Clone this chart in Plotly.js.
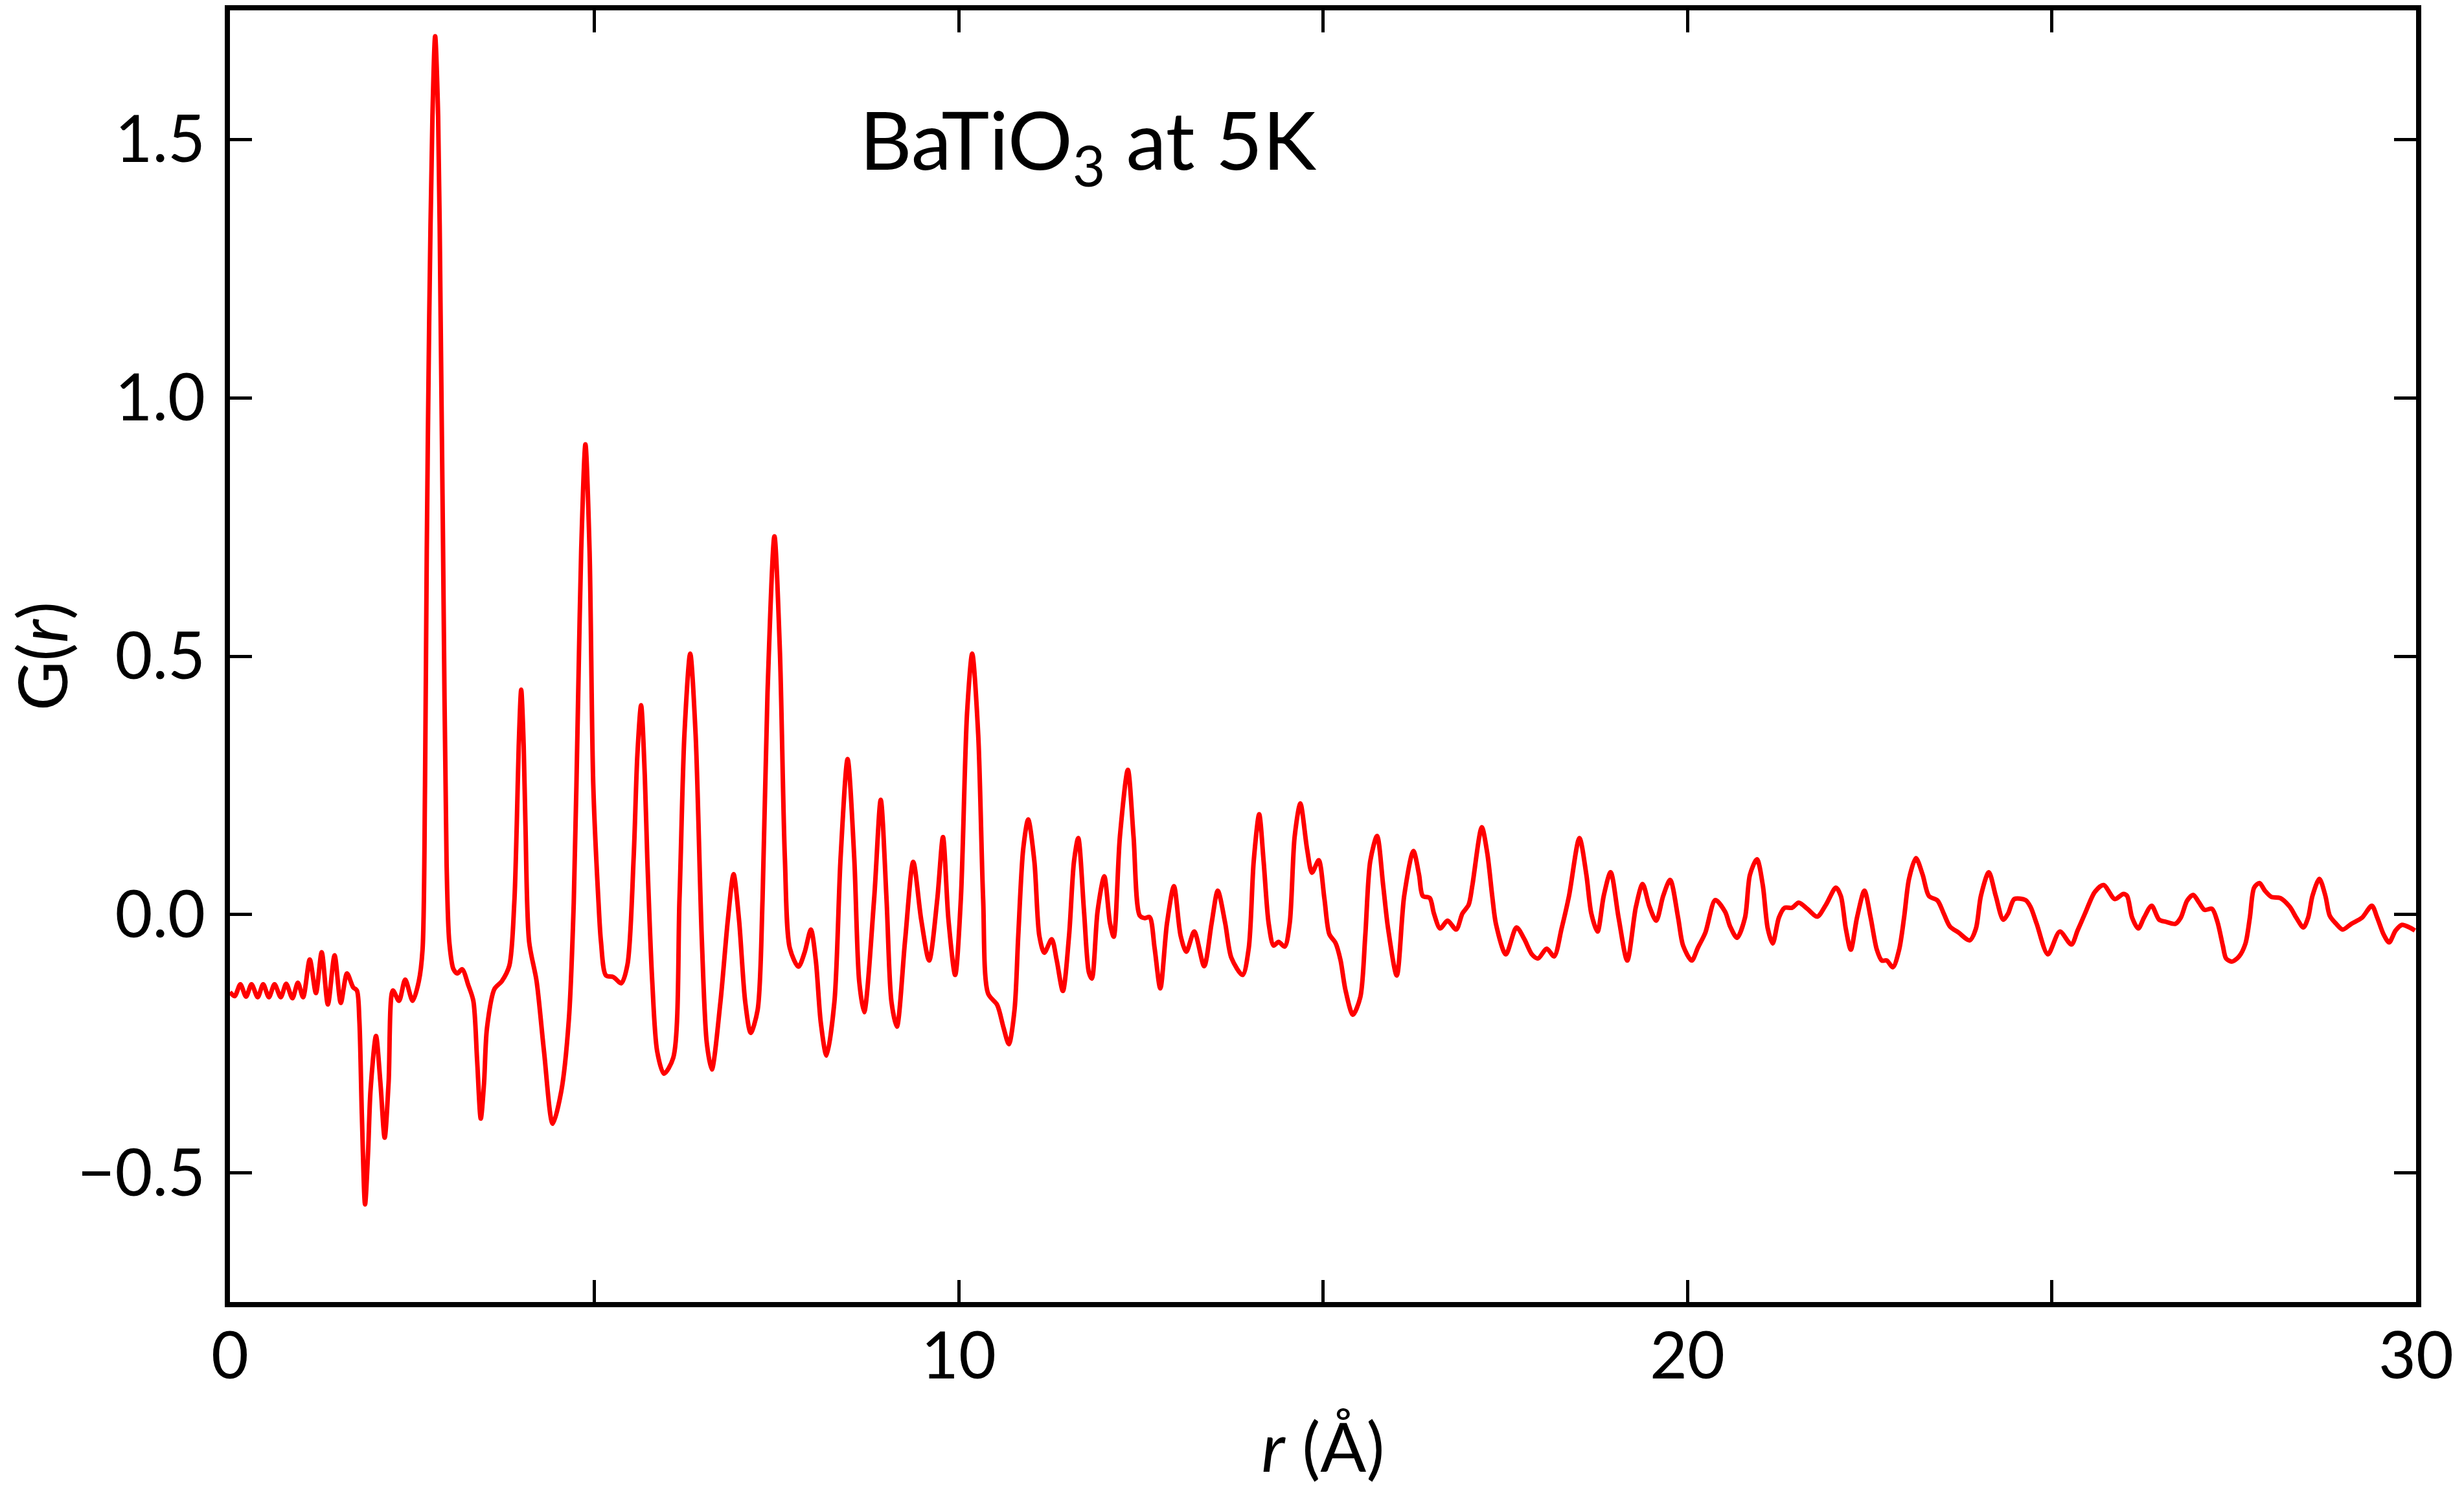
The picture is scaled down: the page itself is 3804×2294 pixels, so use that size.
<!DOCTYPE html>
<html>
<head>
<meta charset="utf-8">
<script src="https://cdn.plot.ly/plotly-3.0.1.min.js"></script>
<style>html,body{margin:0;padding:0;background:#fff;}#chart{width:3804px;height:2294px;}</style>
</head>
<body>
<div id="chart"></div>
<script>
// r in Angstrom
const r = [
0.0,0.065,0.143,0.221,0.296,0.381,0.456,0.534,0.612,0.697,0.772,0.857,0.932,1.004,
1.095,1.18,1.259,1.344,1.436,1.521,1.606,1.691,1.742,1.776,1.81,1.854,1.895,1.929,
2.004,2.065,2.123,2.177,2.235,2.32,2.405,2.507,2.592,2.643,2.677,2.701,2.735,2.779,
2.816,2.857,2.891,2.925,2.973,3.01,3.068,3.119,3.187,3.272,3.34,3.391,3.442,3.487,
3.527,3.63,3.731,3.834,3.902,3.936,3.963,3.997,4.031,4.055,4.106,4.208,4.31,4.429,
4.548,4.65,4.718,4.786,4.82,4.878,4.935,4.986,5.058,5.092,5.16,5.262,5.37,5.455,
5.54,5.591,5.642,5.693,5.727,5.795,5.863,5.955,6.084,6.169,6.237,6.316,6.39,6.476,
6.544,6.612,6.731,6.833,6.911,6.986,7.071,7.146,7.241,7.309,7.377,7.472,7.547,7.615,
7.683,7.802,7.887,7.972,8.04,8.108,8.186,8.295,8.38,8.476,8.567,8.635,8.703,8.84,
8.931,9.01,9.078,9.152,9.265,9.377,9.486,9.595,9.707,9.785,9.86,9.952,10.03,10.115,
10.186,10.268,10.336,10.404,10.529,10.614,10.689,10.767,10.818,10.886,10.954,11.039,
11.107,11.175,11.277,11.345,11.43,11.515,11.583,11.641,11.72,11.787,11.828,11.907,
11.998,12.077,12.128,12.213,12.322,12.4,12.485,12.553,12.621,12.689,12.767,12.859,
12.954,13.046,13.124,13.233,13.369,13.471,13.556,13.658,13.743,13.896,13.981,14.049,
14.124,14.185,14.254,14.322,14.39,14.475,14.543,14.611,14.689,14.781,14.849,14.941,
15.019,15.087,15.172,15.24,15.308,15.41,15.512,15.58,15.648,15.742,15.825,15.893,
16.012,16.114,16.24,16.318,16.369,16.465,16.522,16.607,16.709,16.828,16.913,16.999,
17.05,17.179,17.254,17.322,17.373,17.509,17.655,17.764,17.866,17.951,18.07,18.172,
18.274,18.376,18.519,18.614,18.682,18.767,18.852,18.947,19.056,19.175,19.294,19.386,
19.481,19.573,19.668,19.764,19.873,19.941,20.06,20.145,20.247,20.383,20.519,20.587,
20.682,20.791,20.859,20.955,21.035,21.103,21.171,21.256,21.334,21.436,21.528,21.647,
21.783,21.902,22.038,22.106,22.174,22.243,22.328,22.43,22.515,22.6,22.668,22.736,
22.821,22.906,22.974,23.042,23.137,23.229,23.314,23.433,23.518,23.603,23.722,23.875,
23.96,24.028,24.137,24.232,24.334,24.402,24.487,24.641,24.709,24.794,24.947,25.11,
25.27,25.355,25.457,25.593,25.712,25.865,25.984,26.035,26.103,26.188,26.267,26.371,
26.474,26.563,26.697,26.771,26.859,26.942,27.022,27.097,27.2,27.274,27.348,27.393,
27.473,27.571,27.659,27.719,27.778,27.852,27.926,28.015,28.134,28.267,28.356,28.454,
28.519,28.578,28.673,28.756,28.815,28.904,28.993,29.111,29.259,29.393,29.467,29.556,
29.63,29.719,29.807,29.911,29.985
];
// G(r)
const G = [
-0.150,-0.158,-0.135,-0.159,-0.135,-0.160,-0.135,-0.160,-0.135,-0.160,-0.134,-0.162,-0.132,-0.160,
-0.087,-0.152,-0.073,-0.174,-0.079,-0.171,-0.114,-0.141,-0.147,-0.205,-0.387,-0.561,-0.462,-0.341,
-0.235,-0.326,-0.432,-0.326,-0.147,-0.167,-0.126,-0.167,-0.129,-0.068,0.25,0.704,1.159,1.545,
1.70,1.545,1.159,0.704,0.098,-0.053,-0.106,-0.114,-0.106,-0.137,-0.167,-0.28,-0.395,-0.326,
-0.22,-0.144,-0.129,-0.099,0.023,0.174,0.326,0.435,0.326,0.174,-0.053,-0.129,-0.265,-0.405,
-0.341,-0.205,0.023,0.477,0.704,0.91,0.704,0.25,0.023,-0.053,-0.118,-0.121,-0.133,-0.097,
0.11,0.309,0.405,0.269,0.11,-0.129,-0.265,-0.308,-0.277,0.03,0.349,0.505,0.349,-0.05,
-0.249,-0.30,-0.169,-0.01,0.078,-0.01,-0.169,-0.229,-0.185,0.03,0.429,0.732,0.509,0.11,
-0.065,-0.101,-0.073,-0.029,-0.089,-0.209,-0.273,-0.169,0.11,0.301,0.11,-0.129,-0.189,0.03,
0.222,0.03,-0.169,-0.217,-0.05,0.102,-0.01,-0.089,0.03,0.15,-0.01,-0.117,0.03,0.389,
0.505,0.349,0.03,-0.153,-0.175,-0.218,-0.251,-0.184,-0.041,0.127,0.184,0.103,
-0.041,-0.074,-0.048,-0.088,-0.148,-0.041,0.103,0.148,0.007,-0.112,-0.124,0.007,
0.074,-0.017,-0.043,0.151,0.28,0.151,-0.002,-0.007,-0.005,-0.065,-0.143,-0.017,
0.055,-0.041,-0.072,-0.033,-0.10,-0.017,0.046,-0.017,-0.084,-0.117,-0.065,0.103,
0.194,0.103,-0.017,-0.06,-0.053,-0.062,-0.017,0.151,0.215,0.127,0.081,0.105,
0.031,-0.038,-0.055,-0.088,-0.146,-0.194,-0.16,-0.041,0.103,0.152,0.057,-0.027,
-0.118,0.036,0.123,0.077,0.036,0.032,0.002,-0.027,-0.012,-0.029,0.002,0.019,
0.057,0.169,0.119,0.036,-0.018,-0.077,-0.025,-0.048,-0.077,-0.085,-0.066,-0.081,
-0.027,0.036,0.148,0.077,0.002,-0.033,0.036,0.082,-0.006,-0.089,0.015,0.059,
0.015,-0.012,0.036,0.067,-0.006,-0.06,-0.089,-0.064,-0.035,0.028,0.005,-0.023,
-0.045,-0.006,0.077,0.107,0.057,-0.027,-0.056,-0.006,0.013,0.013,0.023,0.011,
-0.004,0.019,0.052,0.036,-0.027,-0.068,-0.006,0.046,-0.006,-0.068,-0.089,-0.089,
-0.102,-0.068,-0.006,0.069,0.109,0.077,0.036,0.027,0.002,-0.023,-0.035,-0.05,
-0.027,0.036,0.082,0.036,-0.010,0.002,0.030,0.028,0.015,-0.018,-0.077,-0.033,
-0.058,-0.031,0.002,0.044,0.057,0.030,0.040,0.036,-0.006,-0.027,-0.006,0.017,
-0.010,-0.014,-0.018,-0.006,0.027,0.038,0.023,0.009,0.011,-0.014,-0.06,-0.085,
-0.091,-0.081,-0.056,-0.006,0.052,0.061,0.046,0.034,0.032,0.015,-0.006,-0.025,
-0.006,0.036,0.069,0.036,-0.002,-0.018,-0.029,-0.018,-0.006,0.017,-0.006,-0.039,
-0.054,-0.031,-0.020,-0.025,-0.031
];
const titleText = "BaTiO<sub>3</sub> at 5K";
const xTitle = "<i>r</i> (Å)";
const yTitle = "G(<i>r</i>)";
const xRange = [0, 30];
const yRange = [-0.75, 1.75];

const FONT = "Lato, 'Open Sans', sans-serif";

const trace = {
  x: r, y: G, type: "scatter", mode: "lines",
  line: {color: "#ff0000", width: 7, shape: "spline", smoothing: 0.8},
  hoverinfo: "skip"
};

const axisCommon = {
  showline: true, linecolor: "#000", linewidth: 8, mirror: "ticks",
  ticks: "inside", ticklen: 34, tickwidth: 5, tickcolor: "#000",
  showgrid: false, zeroline: false,
  tickfont: {family: FONT, size: 100, color: "#000"}
};

const layout = {
  width: 3804, height: 2294,
  margin: {l: 355, r: 74, t: 16, b: 284, pad: 0},
  paper_bgcolor: "#fff", plot_bgcolor: "#fff",
  showlegend: false,
  font: {family: FONT, color: "#000"},
  xaxis: Object.assign({}, axisCommon, {
    range: xRange, tick0: 0, dtick: 10,
    minor: {dtick: 5, ticks: "inside", ticklen: 34, tickwidth: 5, tickcolor: "#000", showgrid: false},
    ticklabelstandoff: -10,
    title: {text: xTitle, font: {family: FONT, size: 105, color: "#000"}, standoff: 60}
  }),
  yaxis: Object.assign({}, axisCommon, {
    range: yRange, tick0: 0, dtick: 0.5, tickformat: ".1f",
    ticklabelstandoff: 10,
    title: {text: yTitle, font: {family: FONT, size: 105, color: "#000"}, standoff: 25}
  }),
  annotations: [{
    text: titleText, xref: "x", yref: "y", x: 8.62, y: 1.49,
    xanchor: "left", yanchor: "middle", showarrow: false,
    font: {family: FONT, size: 125, color: "#000"}
  }]
};

Plotly.newPlot("chart", [trace], layout, {staticPlot: true, displayModeBar: false});
</script>
</body>
</html>
